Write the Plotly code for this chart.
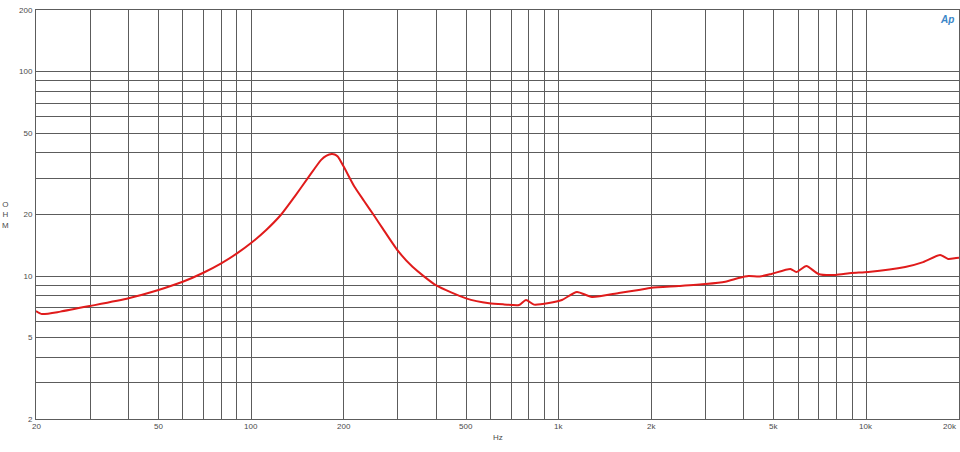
import plotly.graph_objects as go
import math

# Impedance curve (Hz, ohm)
freq = [20, 20.9, 24, 30, 40, 50, 60, 70, 80, 90, 100, 112, 125.3, 138.4, 152.9, 169, 176,
        182.8, 187, 191.3, 200, 216.6, 233, 252, 267.7, 300, 334.8, 400, 500, 593.8, 664, 743,
        782.8, 831, 929, 1024, 1146, 1282, 1568, 1820, 2000, 2454, 3000, 3478, 3842, 4140,
        4500, 4914, 5665, 5923, 6384, 6982, 7927, 8934, 10145, 13370, 15292, 17368, 18437,
        19572, 20000]
ohm = [6.75, 6.52, 6.7, 7.14, 7.79, 8.55, 9.38, 10.38, 11.54, 12.9, 14.5, 16.8, 20.0, 24.4,
       30.1, 37.0, 38.8, 39.5, 39.3, 38.4, 34.3, 27.4, 23.3, 19.6, 17.1, 13.3, 11.1, 9.0, 7.78,
       7.36, 7.27, 7.22, 7.64, 7.25, 7.38, 7.64, 8.36, 7.90, 8.26, 8.55, 8.77, 8.94, 9.14,
       9.38, 9.78, 10.0, 9.95, 10.24, 10.83, 10.47, 11.2, 10.24, 10.12, 10.35, 10.47, 11.07,
       11.7, 12.67, 12.12, 12.25, 12.3]

x_grid = [20, 30, 40, 50, 60, 70, 80, 90,
          100, 200, 300, 400, 500, 600, 700, 800, 900,
          1000, 2000, 3000, 4000, 5000, 6000, 7000, 8000, 9000,
          10000, 20000]
x_label_vals = [20, 50, 100, 200, 500, 1000, 2000, 5000, 10000, 20000]
x_label_text = ["20", "50", "100", "200", "500", "1k", "2k", "5k", "10k", "20k"]

y_grid = [2, 3, 4, 5, 6, 7, 8, 9, 10, 20, 30, 40, 50, 60, 70, 80, 90, 100, 200]
y_label_text = ["2", "", "", "5", "", "", "", "", "10", "20", "", "", "50", "", "", "", "", "100", "200"]

fig = go.Figure()
fig.add_trace(go.Scatter(x=freq, y=ohm, mode="lines",
                         line=dict(color="#e01b1b", width=2, shape="spline", smoothing=0.6),
                         hoverinfo="skip", showlegend=False))

font = dict(family="Liberation Sans, Arial, sans-serif", size=8, color="#4a4a4a")
grid_color = "#5c5c5c"

fig.update_xaxes(type="log", range=[math.log10(20), math.log10(20000)],
                 tickvals=x_grid, showticklabels=False, ticks="",
                 showgrid=True, gridcolor=grid_color, gridwidth=1,
                 showline=True, linecolor=grid_color, linewidth=1, mirror=True,
                 zeroline=False)
fig.update_yaxes(type="log", range=[math.log10(2), math.log10(200)],
                 tickvals=y_grid, ticktext=y_label_text, ticks="",
                 tickfont=font, ticklabelstandoff=1,
                 showgrid=True, gridcolor=grid_color, gridwidth=1,
                 showline=True, linecolor=grid_color, linewidth=1, mirror=True,
                 zeroline=False)

annotations = []
for v, t in zip(x_label_vals, x_label_text):
    last = (v == x_label_vals[-1])
    annotations.append(dict(x=math.log10(v), y=0, xref="x", yref="paper", text=t,
                            showarrow=False, font=font, yanchor="top",
                            xanchor="right" if last else "center", yshift=-1))
annotations.append(dict(x=0.5, y=0, xref="paper", yref="paper", text="Hz", showarrow=False,
                        font=font, yanchor="top", yshift=-12))
annotations.append(dict(x=0, y=0.5, xref="paper", yref="paper", text="O<br>H<br>M",
                        showarrow=False, font=font, xanchor="center", xshift=-31))
annotations.append(dict(x=1, y=1, xref="paper", yref="paper", text="<b><i>Ap</i></b>",
                        showarrow=False, font=dict(family="Liberation Sans, Arial", size=10,
                                                   color="#3a86c8"),
                        xanchor="right", yanchor="top", xshift=-3, yshift=-2))

fig.update_layout(width=960, height=452, margin=dict(l=36, r=1, t=10, b=33),
                  paper_bgcolor="white", plot_bgcolor="white",
                  annotations=annotations)

fig.write_html("out.html", config={"displayModeBar": False},
               post_script="document.body.style.margin='0';document.body.style.overflow='hidden';")
